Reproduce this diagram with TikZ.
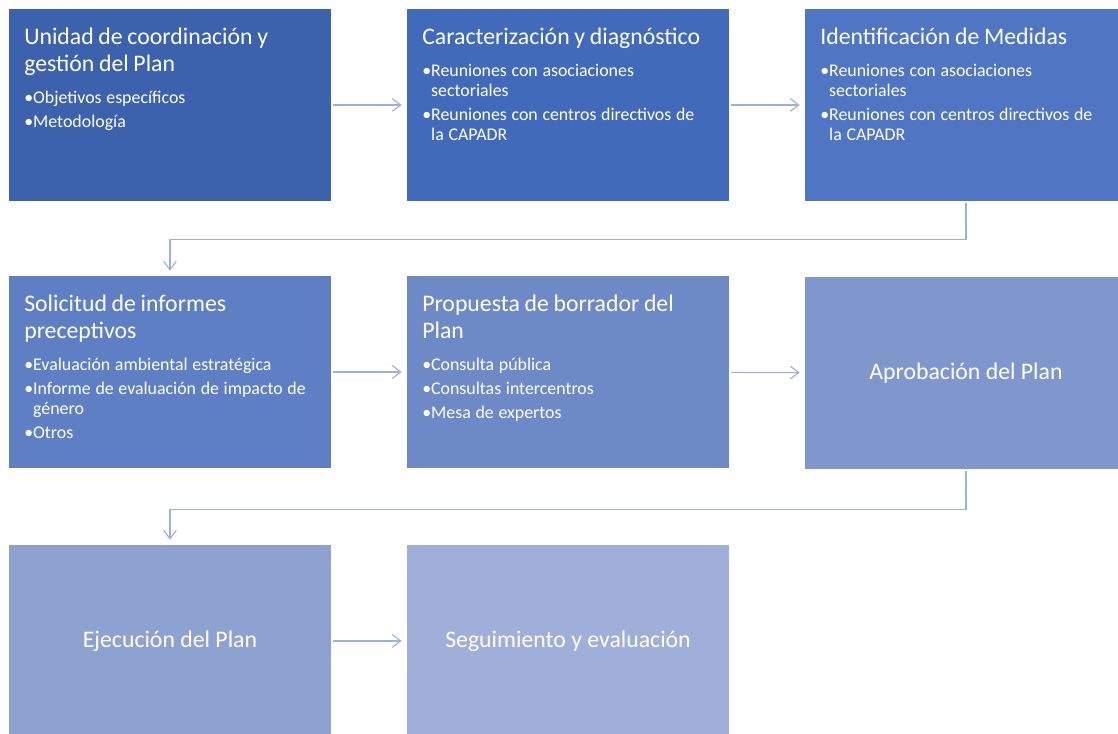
\documentclass[tikz,border=0pt]{standalone}
\usepackage{fontspec}
\setmainfont{Carlito}
\usetikzlibrary{arrows.meta}
\definecolor{cone}{HTML}{3C62AE}
\definecolor{ctwo}{HTML}{426ABA}
\definecolor{cthree}{HTML}{5075C2}
\definecolor{cfour}{HTML}{5F7FC4}
\definecolor{cfive}{HTML}{6D8AC7}
\definecolor{csix}{HTML}{7F97CD}
\definecolor{cseven}{HTML}{8EA2D2}
\definecolor{ceight}{HTML}{A0AFDA}
\definecolor{conn}{HTML}{9DB0DC}
\newcommand{\ttl}[1]{{\fontsize{16.9}{19.2}\selectfont #1\par}\vspace{5.2pt}%
  \fontsize{12.7}{14.2}\selectfont\setlength{\parskip}{3pt}}
\newcommand{\itm}[1]{\par\sbox0{\textbullet}\hangindent=\wd0\hangafter=1\noindent\textbullet#1\par}
\tikzset{box/.style={rectangle,minimum width=8.05cm,minimum height=4.8cm,inner sep=0pt},
  txt/.style={anchor=base west,text width=7.9cm,align=left,inner sep=0pt,text=white},
  big/.style={text=white,font=\fontsize{16.9}{19.2}\selectfont},
  link/.style={draw=conn,line width=0.8pt,-{Straight Barb[length=6pt,width=9pt]},
    shorten <=0.05cm,shorten >=0.125cm}}

\begin{document}
\begin{tikzpicture}[x=0.025cm,y=-0.025cm]
\clip (0,0) rectangle (1118,734);
\node[box,fill=cone] (b1) at (170,105) {};
\node[box,fill=ctwo] (b2) at (568,105) {};
\node[box,fill=cthree] (b3) at (966,105) {};
\node[box,fill=cfour] (b4) at (170,372) {};
\node[box,fill=cfive] (b5) at (568,372) {};
\node[box,fill=csix,big] (b6) at (966,373) {Aprobación del Plan};
\node[box,fill=cseven,big] (b7) at (170,641) {Ejecución del Plan};
\node[box,fill=ceight,big] (b8) at (568,641) {Seguimiento y evaluación};
% textos
\node[txt] (t1) at (24,45) {\ttl{Unidad de coordinación y\newline gestión del Plan}
  \itm{Objetivos específicos}\itm{Metodología}};
\node[txt] (t2) at (422,45) {\ttl{Caracterización y diagnóstico}
  \itm{Reuniones con asociaciones\newline sectoriales}\itm{Reuniones con centros directivos de\newline la CAPADR}};
\node[txt] (t3) at (820,45) {\ttl{Identificación de Medidas}
  \itm{Reuniones con asociaciones\newline sectoriales}\itm{Reuniones con centros directivos de\newline la CAPADR}};
\node[txt] (t4) at (24,312) {\ttl{Solicitud de informes\newline preceptivos}
  \itm{Evaluación ambiental estratégica}\itm{Informe de evaluación de impacto de\newline género}\itm{Otros}};
\node[txt] (t5) at (422,312) {\ttl{Propuesta de borrador del\newline Plan}
  \itm{Consulta pública}\itm{Consultas intercentros}\itm{Mesa de expertos}};
% conectores
\draw[link] (b1) -- (b2);
\draw[link] (b2) -- (b3);
\draw[link] (b3.south) -- ++(0,38) -| (b4.north);
\draw[link] (b4) -- (b5);
\draw[link] (b5) -- (b6);
\draw[link] (b6.south) -- ++(0,40) -| (b7.north);
\draw[link] (b7) -- (b8);
\end{tikzpicture}
\end{document}
